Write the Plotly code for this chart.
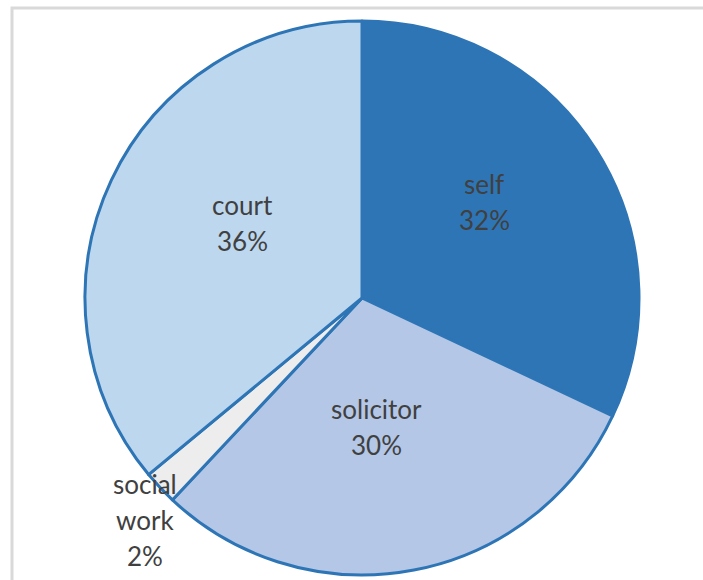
import math
import plotly.graph_objects as go

# Referral source shares (percent)
categories = ["self", "solicitor", "social work", "court"]
shares = [32, 30, 2, 36]
label_lines = [["self"], ["solicitor"], ["social", "work"], ["court"]]

slice_colors = ["#2E75B6", "#B4C7E7", "#EDEDED", "#BDD7EE"]
edge_color = "#2E75B6"
text_color = "#404040"

# Label placement: (fraction of radius, angular nudge in degrees)
label_place = [(0.56, -5.7), (0.47, 4.6), (1.12, -2.5), (0.51, 6.8)]

W, H = 703, 580
CX, CY, R = 362, 282, 277   # pie centre (px from left / bottom) and radius
LINE_GAP = 36
FONT = dict(family="Lato, Carlito, sans-serif", size=26, color=text_color)

fig = go.Figure(
    go.Pie(
        labels=categories,
        values=shares,
        sort=False,
        direction="clockwise",
        rotation=0,
        textinfo="none",
        marker=dict(colors=slice_colors, line=dict(color=edge_color, width=3)),
        domain=dict(x=[(CX - R) / W, (CX + R) / W], y=[(CY - R) / H, (CY + R) / H]),
        showlegend=False,
        hoverinfo="label+percent",
    )
)

# Data labels: category name(s) and percentage, placed along each slice's mid-angle
total = sum(shares)
cum = 0
for name_lines, share, (frac, nudge) in zip(label_lines, shares, label_place):
    mid = (cum + share / 2) / total * 360 + nudge
    cum += share
    px = CX + frac * R * math.sin(math.radians(mid))
    py = CY + frac * R * math.cos(math.radians(mid))
    lines = name_lines + [f"{round(share / total * 100)}%"]
    n = len(lines)
    for k, line in enumerate(lines):
        fig.add_annotation(
            x=px / W, y=py / H, xref="paper", yref="paper",
            text=line, showarrow=False, font=FONT,
            xanchor="center", yanchor="middle",
            yshift=((n - 1) / 2 - k) * LINE_GAP,
        )

# Light grey chart-area frame
fig.add_shape(
    type="rect", xref="paper", yref="paper",
    x0=12 / W, x1=1.05, y0=-0.05, y1=1 - 8 / H,
    line=dict(color="#D9D9D9", width=3), fillcolor="rgba(0,0,0,0)", layer="below",
)

fig.update_layout(
    width=W, height=H,
    margin=dict(l=0, r=0, t=0, b=0),
    paper_bgcolor="white", plot_bgcolor="white",
)

fig.write_html("out.html")
